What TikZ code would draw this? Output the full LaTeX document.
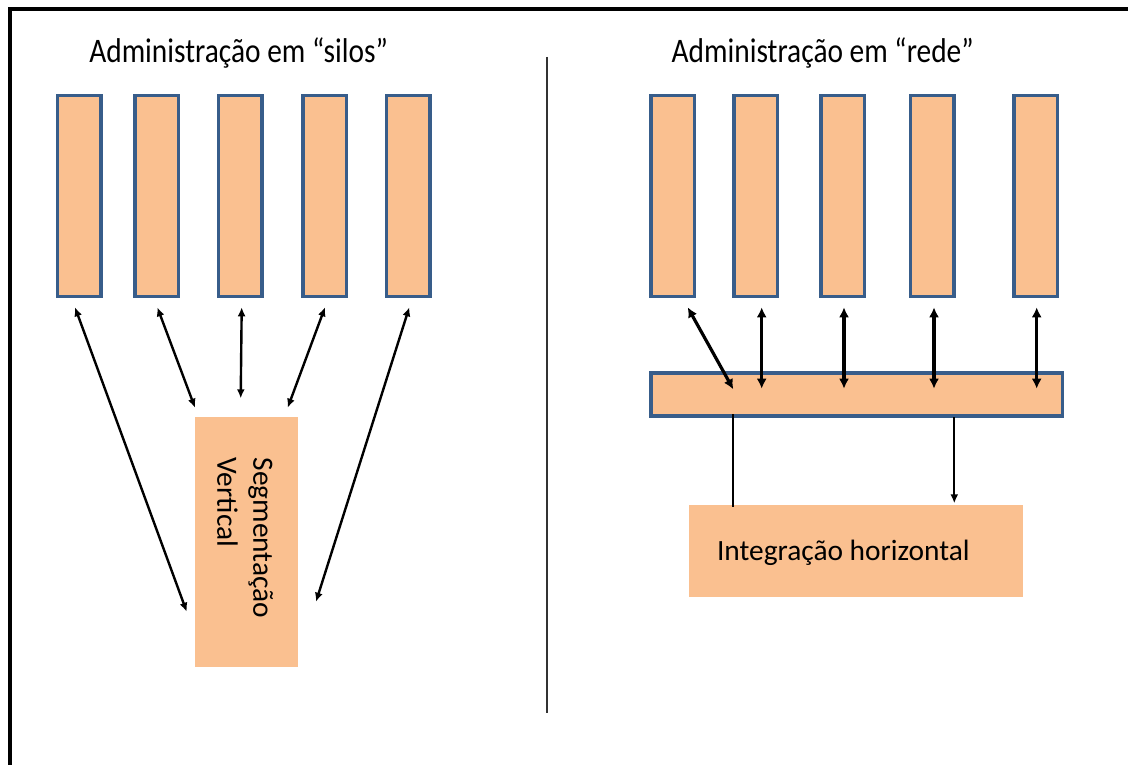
\documentclass[tikz,border=0pt]{standalone}
\usepackage{fontspec}
\usepackage{graphicx}
\setmainfont{Carlito}
\usetikzlibrary{arrows.meta}
\definecolor{boxfill}{RGB}{250,192,144}
\definecolor{boxline}{RGB}{56,93,138}
\begin{document}
\begin{tikzpicture}[x=1pt,y=-1pt,
  silo/.style={draw=boxline, line width=3.5pt, fill=boxfill, minimum width=43.5pt, minimum height=200.5pt, inner sep=0pt, outer sep=0pt},
  plainbox/.style={fill=boxfill, inner sep=0pt, outer sep=0pt},
  txt/.style={inner sep=0pt, outer sep=0pt, font=\fontsize{29.4}{36}\selectfont},
  arrL/.style={line width=2.4pt, {Latex[length=9pt,width=8pt]}-{Latex[length=9pt,width=8pt]}},
  arrR/.style={line width=3.2pt, {Latex[length=10pt,width=10pt]}-{Latex[length=10pt,width=10pt]}},
  arrD/.style={line width=2.2pt, -{Latex[length=9pt,width=8pt]}},
  thinline/.style={line width=1.8pt}
]
\useasboundingbox (0,0) rectangle (1128,765);
\fill[white] (0,0) rectangle (1128,765);

% frame
\draw[line width=3.5pt] (10,765) -- (10,9) -- (1128,9);
% divider
\draw[line width=2pt, black!80] (546.7,57) -- (546.7,712.7);

% titles
\node[txt, anchor=base west] (t1) at (89.3,62.3) {\scalebox{1}[1.17]{Administração em “silos”}};
\node[txt, anchor=base west] (t2) at (671.7,62.3) {\scalebox{1}[1.17]{Administração em “rede”}};

% left silos
\node[silo] (l1) at (79.4,196) {};
\node[silo] (l2) at (156.7,196) {};
\node[silo] (l3) at (240.3,196) {};
\node[silo] (l4) at (324.9,196) {};
\node[silo] (l5) at (408,196) {};

\node[plainbox, minimum width=102.7pt, minimum height=250pt] (seg) at (246.3,541.7) {};
\node[txt, rotate=-90, anchor=base west] (segA) at (253.3,457.7) {Segmentação};
\node[txt, rotate=-90, anchor=base west] (segB) at (217.3,457.7) {Vertical};

% right silos
\node[silo] (r1) at (672.8,196) {};
\node[silo] (r2) at (755.7,196) {};
\node[silo] (r3) at (842.5,196) {};
\node[silo] (r4) at (932.2,196) {};
\node[silo] (r5) at (1035.8,196) {};

\node[silo, minimum width=411.2pt, minimum height=43.2pt] (bar) at (856.7,394.4) {};
\node[plainbox, minimum width=334pt, minimum height=92.3pt] (integ) at (856.3,551.2) {};
\node[txt, anchor=base west] (integT) at (717,560.7) {Integração horizontal};

% left connector ends
\coordinate (l1e) at (75,307.3);   \coordinate (s1e) at (186.7,611.7);
\coordinate (l2e) at (157.3,307.3);\coordinate (s2e) at (195,407.7);
\coordinate (l3e) at (241.7,307.3);\coordinate (s3e) at (240.7,398.3);
\coordinate (l4e) at (325,307.3);  \coordinate (s4e) at (287.7,407.7);
\coordinate (l5e) at (409.3,307.3);\coordinate (s5e) at (316,601.7);

\draw[arrL] (l1e) -- (s1e);
\draw[arrL] (l2e) -- (s2e);
\draw[arrL] (l3e) -- (s3e);
\draw[arrL] (l4e) -- (s4e);
\draw[arrL] (l5e) -- (s5e);

% right connector ends
\coordinate (r1e) at (687.7,307.3); \coordinate (b1e) at (733.3,389.3);
\coordinate (r2e) at (761.7,307.3); \coordinate (b2e) at (761.7,388.7);
\coordinate (r3e) at (844,307.3);   \coordinate (b3e) at (844,388.7);
\coordinate (r4e) at (934,307.3);   \coordinate (b4e) at (934,388.7);
\coordinate (r5e) at (1036.7,307.3);\coordinate (b5e) at (1036.7,388.7);

\draw[arrR] (r1e) -- (b1e);
\draw[arrR] (r2e) -- (b2e);
\draw[arrR] (r3e) -- (b3e);
\draw[arrR] (r4e) -- (b4e);
\draw[arrR] (r5e) -- (b5e);

\coordinate (bl) at (732.7,414);
\coordinate (il) at (732.7,506.7);
\draw[thinline] (bl) -- (il);
\coordinate (br) at (954.3,417);
\coordinate (ir) at (954.3,503.3);
\draw[arrD] (br) -- (ir);
\end{tikzpicture}
\end{document}
